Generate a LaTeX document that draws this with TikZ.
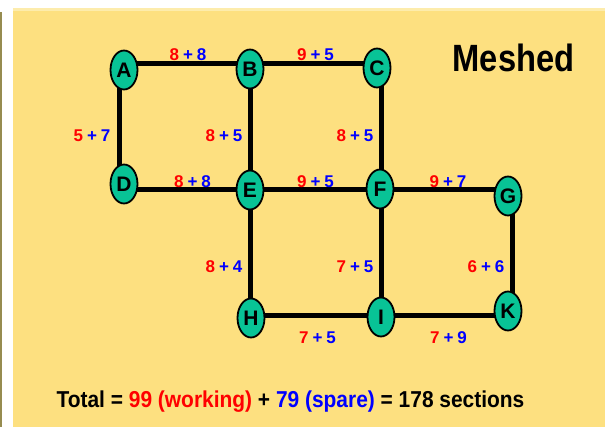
\documentclass[tikz,border=0pt]{standalone}
\usepackage{fontspec}
\setmainfont{Liberation Sans}
\newfontfamily\narrowbf{Liberation Sans Bold}[FakeStretch=0.86]
\newfontfamily\totalbf{Liberation Sans Bold}[FakeStretch=0.91]
\usetikzlibrary{shapes.geometric}
\definecolor{bgyellow}{RGB}{253,224,128}
\definecolor{bgband}{RGB}{253,236,172}
\definecolor{olive}{RGB}{150,140,80}
\definecolor{nodeteal}{RGB}{8,195,150}
\definecolor{wred}{RGB}{255,0,0}
\definecolor{sblue}{RGB}{0,0,255}
\tikzset{
  link/.style={line width=5pt, black, line cap=butt},
  router/.style={ellipse, draw=black, line width=1.8pt, fill=nodeteal,
    minimum width=27pt, minimum height=39pt, inner sep=0pt,
    font=\fontsize{21}{21}\selectfont\bfseries},
  capl/.style={font=\fontsize{17}{17}\selectfont\bfseries, inner sep=0pt}
}
\newcommand{\wsl}[2]{\textcolor{wred}{#1}\hspace{4pt}\textcolor{sblue}{+\hspace{4pt}#2}}
\begin{document}
\begin{tikzpicture}[x=1pt,y=-1pt]
\useasboundingbox (0,0) rectangle (605,427);
\fill[white] (0,0) rectangle (605,427);
\fill[bgyellow] (13,11) rectangle (605,427);
\fill[bgband] (13,8) rectangle (605,11);
\fill[olive] (0,12) rectangle (2,427);
% grid coordinates
\coordinate (g11) at (119.5,63.5);
\coordinate (g21) at (250.5,63.5);
\coordinate (g31) at (381.5,63.5);
\coordinate (g12) at (119.5,189.5);
\coordinate (g22) at (250.5,189.5);
\coordinate (g32) at (381.5,189.5);
\coordinate (g42) at (512.5,189.5);
\coordinate (g23) at (250.5,316);
\coordinate (g33) at (381.5,316);
\coordinate (g43) at (512.5,316);
% links
\draw[link] (g11) -- (g31);
\draw[link] (g11) -- (g12);
\draw[link] (g12) -- (g42);
\draw[link] (g21) -- (g23);
\draw[link] (g31) -- (g33);
\draw[link] (g42) -- (g43);
\draw[link] (g23) -- (g43);
% nodes
\node[router] (A) at (124,70) {A};
\node[router] (B) at (250,69) {B};
\node[router] (C) at (377,68) {C};
\node[router] (D) at (124,184) {D};
\node[router] (E) at (250,190) {E};
\node[router] (F) at (380,189) {F};
\node[router] (G) at (508,196) {G};
\node[router] (H) at (251,318) {H};
\node[router] (I) at (381,317) {I};
\node[router] (K) at (508,311) {K};
% capacity labels
\node[capl] (lab) at (188,55) {\wsl{8}{8}};
\node[capl] (lbc) at (315.5,55) {\wsl{9}{5}};
\node[capl] (lad) at (92,136) {\wsl{5}{7}};
\node[capl] (lbe) at (224,136) {\wsl{8}{5}};
\node[capl] (lcf) at (355,136) {\wsl{8}{5}};
\node[capl] (lde) at (192.5,182) {\wsl{8}{8}};
\node[capl] (lef) at (315.5,182) {\wsl{9}{5}};
\node[capl] (lfg) at (448,182) {\wsl{9}{7}};
\node[capl] (leh) at (224,267) {\wsl{8}{4}};
\node[capl] (lfi) at (355,267) {\wsl{7}{5}};
\node[capl] (lgk) at (486,267) {\wsl{6}{6}};
\node[capl] (lhi) at (317.5,338) {\wsl{7}{5}};
\node[capl] (lik) at (448.5,338) {\wsl{7}{9}};
% title and total
\node[font=\fontsize{38}{38}\narrowbf, inner sep=0pt, anchor=base] (title) at (513.5,71.5) {Meshed};
\node[font=\fontsize{23}{23}\totalbf, inner sep=0pt, anchor=base] (total) at (290.5,407.5)
  {Total = \textcolor{wred}{99 (working)} + \textcolor{sblue}{79 (spare)} = 178 sections};
\end{tikzpicture}
\end{document}
